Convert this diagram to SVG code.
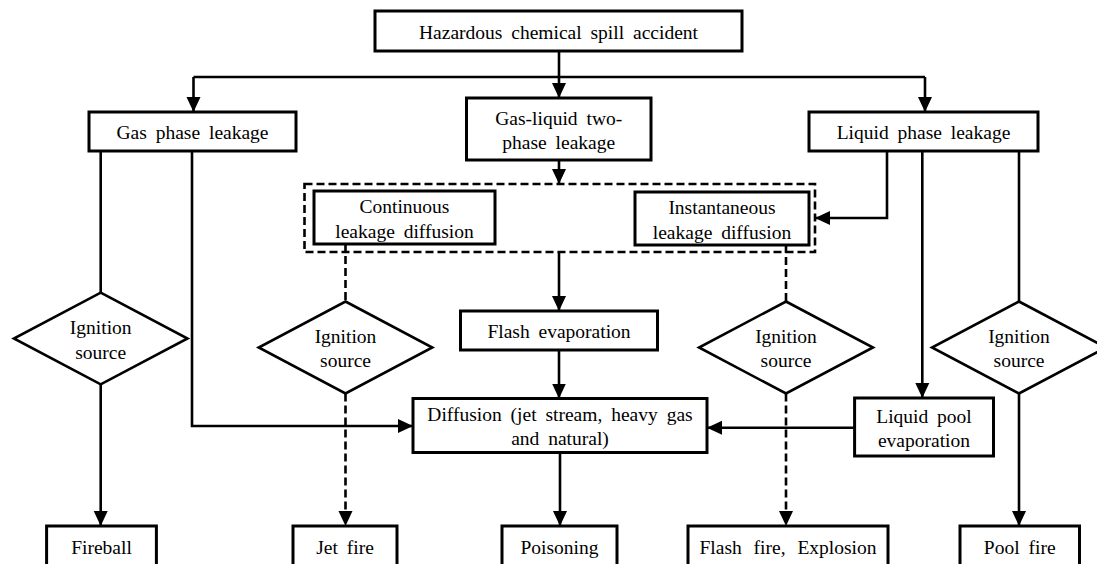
<svg xmlns="http://www.w3.org/2000/svg" width="1097" height="564" viewBox="0 0 1097 564">
<style>
.box{fill:#fff;stroke:#000;stroke-width:3}
.dia{fill:#fff;stroke:#000;stroke-width:2.6}
.dbox{fill:none;stroke:#000;stroke-width:2.6;stroke-dasharray:8 4}
.ln{fill:none;stroke:#000;stroke-width:2.6}
.dl{fill:none;stroke:#000;stroke-width:2.6;stroke-dasharray:8 4}
.arr{marker-end:url(#ah)}
</style>
<defs>
<marker id="ah" markerUnits="userSpaceOnUse" markerWidth="16" markerHeight="16" viewBox="0 0 16 16" refX="15" refY="8" orient="auto">
<path d="M0,1 L15,8 L0,15 Z" fill="#000"/>
</marker>
</defs>
<g id="connectors">
<path class="ln" d="M193.5 77 H925"/>
<path class="ln arr" d="M559 51 V98"/>
<path class="ln arr" d="M193.5 77 V112"/>
<path class="ln arr" d="M925 77 V112"/>
<path class="ln arr" d="M559 160 V184"/>
<path class="ln arr" d="M887 151 V218 H815"/>
<path class="ln arr" d="M559 252 V311"/>
<path class="ln arr" d="M559 350 V398.5"/>
<path class="ln arr" d="M560 452.5 V526"/>
<path class="ln" d="M100.7 151 V292.7"/>
<path class="ln arr" d="M100.7 384.3 V526"/>
<path class="ln arr" d="M192 151 V426 H413"/>
<path class="dl" d="M345.5 244 V301.5"/>
<path class="dl arr" d="M345.5 393.5 V526"/>
<path class="dl" d="M786 245 V301.5"/>
<path class="dl arr" d="M786 393.5 V526"/>
<path class="ln arr" d="M922.3 151 V398"/>
<path class="ln arr" d="M854.6 427.7 H707"/>
<path class="ln" d="M1019 151 V301.5"/>
<path class="ln arr" d="M1019 393.5 V526"/>
</g>
<g id="nodes" font-family="'Liberation Serif', 'Times New Roman', 'DejaVu Serif', serif" font-size="19.5" text-anchor="middle" word-spacing="4" fill="#000">
<g id="n-top">
<rect class="box" x="375" y="11" width="367" height="40"/>
<text x="558.5" y="38.5">Hazardous chemical spill accident</text>
</g>
<g id="n-gas">
<rect class="box" x="89" y="112" width="207" height="39"/>
<text x="192.5" y="138.5">Gas phase leakage</text>
</g>
<g id="n-two">
<rect class="box" x="466.5" y="98" width="184.5" height="62"/>
<text x="558.75" y="124.5">Gas-liquid two-</text>
<text x="558.75" y="149">phase leakage</text>
</g>
<g id="n-liq">
<rect class="box" x="809" y="112" width="229" height="39"/>
<text x="923.5" y="138.5">Liquid phase leakage</text>
</g>
<g id="n-group">
<rect class="dbox" x="304.5" y="184" width="510.5" height="68"/>
</g>
<g id="n-cont">
<rect class="box" x="314" y="191" width="181" height="53"/>
<text x="404.5" y="213">Continuous</text>
<text x="404.5" y="237.5">leakage diffusion</text>
</g>
<g id="n-inst">
<rect class="box" x="635" y="192" width="174" height="53"/>
<text x="722" y="214">Instantaneous</text>
<text x="722" y="238.5">leakage diffusion</text>
</g>
<g id="n-flash">
<rect class="box" x="460.5" y="311" width="197" height="39"/>
<text x="559" y="337.5">Flash evaporation</text>
</g>
<g id="n-diff">
<rect class="box" x="413" y="398.5" width="294" height="54"/>
<text x="560" y="420.5">Diffusion (jet stream, heavy gas</text>
<text x="560" y="445">and natural)</text>
</g>
<g id="n-pool">
<rect class="box" x="854.6" y="398" width="138.9" height="58"/>
<text x="924" y="423">Liquid pool</text>
<text x="924" y="447">evaporation</text>
</g>
<g id="n-ig1">
<polygon class="dia" points="100.7,292.7 187.5,338.5 100.7,384.3 13.9,338.5"/>
<text x="100.7" y="333.5">Ignition</text>
<text x="100.7" y="358.5">source</text>
</g>
<g id="n-ig2">
<polygon class="dia" points="345.5,301.5 432.3,347.5 345.5,393.5 258.7,347.5"/>
<text x="345.5" y="342.5">Ignition</text>
<text x="345.5" y="367">source</text>
</g>
<g id="n-ig3">
<polygon class="dia" points="786,301.5 873,347.5 786,393.5 699,347.5"/>
<text x="786" y="342.5">Ignition</text>
<text x="786" y="367">source</text>
</g>
<g id="n-ig4">
<polygon class="dia" points="1019,301.5 1106,347.5 1019,393.5 932,347.5"/>
<text x="1019" y="342.5">Ignition</text>
<text x="1019" y="367">source</text>
</g>
<g id="n-fireball">
<rect class="box" x="46.6" y="526" width="109.8" height="60"/>
<text x="101.5" y="553.5">Fireball</text>
</g>
<g id="n-jet">
<rect class="box" x="293" y="526" width="104" height="60"/>
<text x="345" y="553.5">Jet fire</text>
</g>
<g id="n-poison">
<rect class="box" x="502" y="526" width="115" height="60"/>
<text x="559.5" y="553.5">Poisoning</text>
</g>
<g id="n-flashfire">
<rect class="box" x="688" y="526" width="200" height="60"/>
<text x="788" y="553.5" word-spacing="7">Flash fire, Explosion</text>
</g>
<g id="n-poolfire">
<rect class="box" x="960" y="526" width="119.5" height="60"/>
<text x="1019.7" y="553.5">Pool fire</text>
</g>
</g>
</svg>
